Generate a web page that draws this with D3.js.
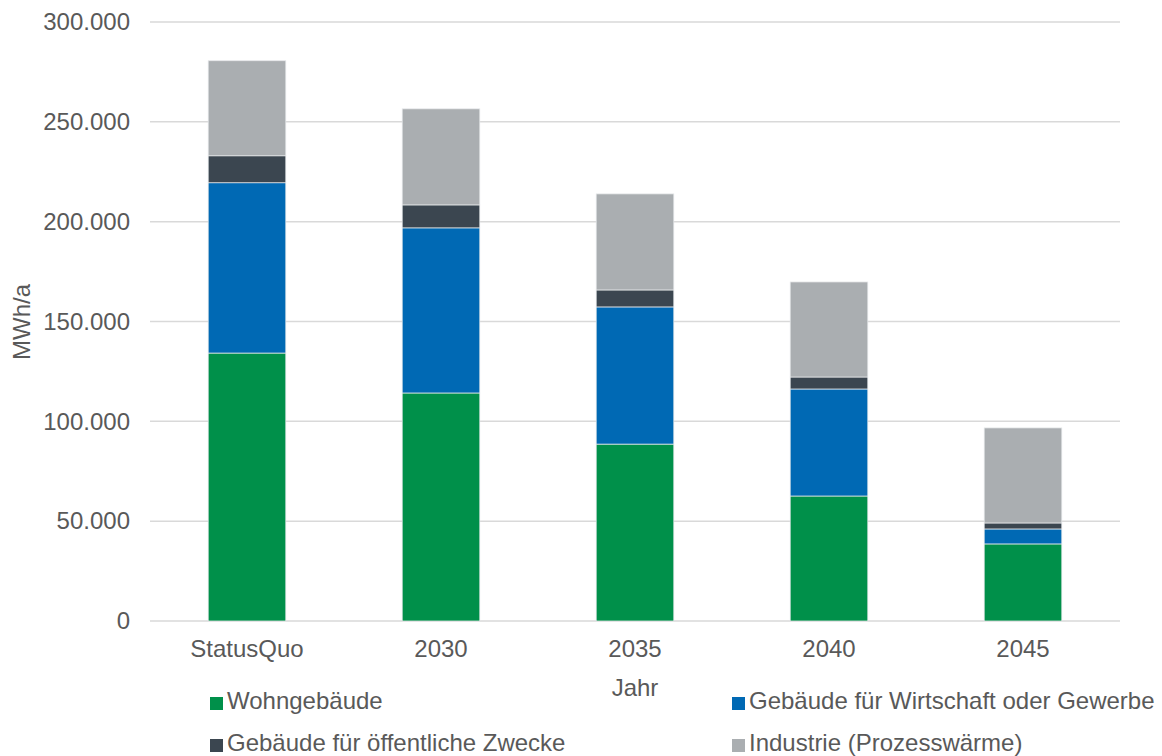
<!DOCTYPE html>
<html><head><meta charset="utf-8">
<script src="https://cdn.jsdelivr.net/npm/d3@7"></script>
<style>body{margin:0;background:#fff}svg{display:block}text{font-family:"Liberation Sans",Arial,sans-serif;fill:#595959}</style>
</head><body><svg id="c" width="1162" height="756"></svg>
<script>
const categories = ["StatusQuo","2030","2035","2040","2045"];
const seriesNames = ["Wohngebäude","Gebäude für Wirtschaft oder Gewerbe","Gebäude für öffentliche Zwecke","Industrie (Prozesswärme)"];
const wohn = [134200,114200,88600,62600,38600];
const wirtschaft = [85300,82700,68700,53600,7500];
const oeffentlich = [13500,11500,8500,6000,3000];
const industrie = [47600,48100,48100,47600,47600];
const yTicks = [0,50000,100000,150000,200000,250000,300000];
const colors = ["#00904A","#0069B4","#3B4650","#AAAEB1"];

const svg = d3.select("#c");
const L=150,R=1120,T=22,B=621;
const FS=24;
const x = d3.scaleBand().domain(categories).range([L,R]).paddingInner(0.6).paddingOuter(0.3);
const y = d3.scaleLinear().domain([0,300000]).range([B,T]);
const fmt = v => v===0 ? "0" : d3.format(",")(v).replace(/,/g,".");

svg.append("g").selectAll("line").data(yTicks).join("line")
  .attr("x1",L).attr("x2",R).attr("y1",d=>y(d)).attr("y2",d=>y(d))
  .attr("stroke","#d9d9d9").attr("stroke-width",1.5);

const data = categories.map((c,i)=>({cat:c,s0:wohn[i],s1:wirtschaft[i],s2:oeffentlich[i],s3:industrie[i]}));
const stack = d3.stack().keys(["s0","s1","s2","s3"])(data);
svg.append("g").selectAll("g").data(stack).join("g").attr("fill",(d,i)=>colors[i])
  .selectAll("rect").data(d=>d).join("rect")
  .attr("x",d=>x(d.data.cat)).attr("width",x.bandwidth())
  .attr("y",d=>y(d[1])).attr("height",d=>y(d[0])-y(d[1]))
  .attr("stroke","#e6e8ea").attr("stroke-width",0.75);

const ya = svg.append("g").attr("transform",`translate(${L},0)`)
  .call(d3.axisLeft(y).tickValues(yTicks).tickFormat(fmt).tickSize(0).tickPadding(20));
ya.select(".domain").remove();
ya.selectAll("text").attr("font-size",FS).attr("fill","#595959").attr("font-family","Liberation Sans, Arial, sans-serif");

const xa = svg.append("g").attr("transform",`translate(0,${B})`)
  .call(d3.axisBottom(x).tickSize(0).tickPadding(19));
xa.select(".domain").remove();
xa.selectAll("text").attr("font-size",FS).attr("fill","#595959").attr("font-family","Liberation Sans, Arial, sans-serif");

svg.append("text").attr("x",x("2035")+x.bandwidth()/2).attr("y",696).attr("text-anchor","middle").attr("font-size",FS).text("Jahr");
svg.append("text").attr("transform","translate(30,322) rotate(-90)").attr("text-anchor","middle").attr("font-size",FS).text("MWh/a");

const legPos = [[210,709],[732,709],[210,751],[732,751]];
const lg = svg.append("g").selectAll("g").data(seriesNames).join("g")
  .attr("transform",(d,i)=>`translate(${legPos[i][0]},${legPos[i][1]})`);
lg.append("rect").attr("x",0).attr("y",-12).attr("width",13).attr("height",13).attr("fill",(d,i)=>colors[i]);
lg.append("text").attr("x",17).attr("y",0).attr("font-size",FS).text(d=>d);
</script></body></html>
